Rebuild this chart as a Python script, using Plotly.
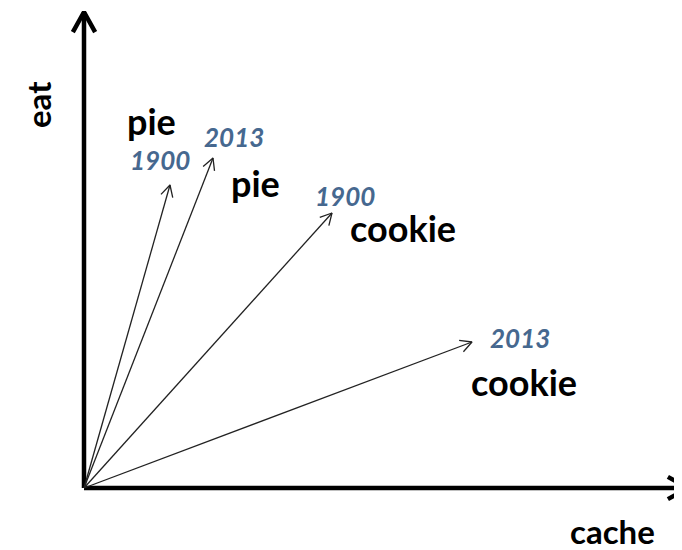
import numpy as np
import plotly.graph_objects as go

# ---- data: word vectors (cache, eat) ----
words = ["pie", "pie", "cookie", "cookie"]
years = ["1900", "2013", "1900", "2013"]
cache_vals = [86, 129, 248, 388]
eat_vals = [303, 330, 275, 146]
x_axis_label = "cache"
y_axis_label = "eat"

# ---- styling / label offsets (relative to vector tip, in axis units) ----
year_offsets = [(-10, 25), (21, 21), (13, 17), (48, 4)]
word_offsets = [(-19, 64), (42, -25), (71, -15), (52, -40)]
# page has an 8px body margin, so shift the visible window accordingly
X_MIN, X_MAX = -76, 606
Y_MIN, Y_MAX = -70, 480
FONT = "Lato"
BLUE = "#46688f"


def chevron(tip, direction, length, half_angle_deg):
    d = np.asarray(direction, float)
    d = d / np.linalg.norm(d)
    n = np.array([-d[1], d[0]])
    a = np.radians(half_angle_deg)
    tip = np.asarray(tip, float)
    back = tip - length * np.cos(a) * d
    p1 = back + length * np.sin(a) * n
    p2 = back - length * np.sin(a) * n
    return [p1[0], tip[0], p2[0]], [p1[1], tip[1], p2[1]]


fig = go.Figure()

# axes
ax_w = 4.5
fig.add_trace(go.Scatter(x=[0, 0], y=[0, 476], mode="lines",
                         line=dict(color="black", width=ax_w), hoverinfo="skip"))
fig.add_trace(go.Scatter(x=[0, 604], y=[0, 0], mode="lines",
                         line=dict(color="black", width=ax_w), hoverinfo="skip"))
hx, hy = chevron((0, 476), (0, 1), 23, 29)
fig.add_trace(go.Scatter(x=hx, y=hy, mode="lines",
                         line=dict(color="black", width=ax_w), hoverinfo="skip"))
hx, hy = chevron((604, 0), (1, 0), 23, 29)
fig.add_trace(go.Scatter(x=hx, y=hy, mode="lines",
                         line=dict(color="black", width=ax_w), hoverinfo="skip"))

# vectors
for i in range(len(words)):
    cx, ey = cache_vals[i], eat_vals[i]
    fig.add_trace(go.Scatter(x=[0, cx], y=[0, ey], mode="lines",
                             line=dict(color="#222", width=1.3), hoverinfo="skip"))
    hx, hy = chevron((cx, ey), (cx, ey), 13, 28)
    fig.add_trace(go.Scatter(x=hx, y=hy, mode="lines",
                             line=dict(color="#222", width=1.3), hoverinfo="skip"))
    yo = year_offsets[i]
    wo = word_offsets[i]
    fig.add_annotation(x=cx + yo[0], y=ey + yo[1], text="<b><i>" + years[i] + "</i></b>",
                       showarrow=False, xanchor="center", yanchor="middle",
                       font=dict(family=FONT, size=26, color=BLUE))
    fig.add_annotation(x=cx + wo[0], y=ey + wo[1], text="<b>" + words[i] + "</b>",
                       showarrow=False, xanchor="center", yanchor="middle",
                       font=dict(family=FONT, size=36, color="black"))

fig.add_annotation(x=528, y=-43, text="<b>" + x_axis_label + "</b>", showarrow=False,
                   xanchor="center", yanchor="middle",
                   font=dict(family=FONT, size=33, color="black"))
fig.add_annotation(x=-46, y=383, text="<b>" + y_axis_label + "</b>", showarrow=False,
                   textangle=-90, xanchor="center", yanchor="middle",
                   font=dict(family=FONT, size=33, color="black"))

fig.update_layout(
    width=682, height=550,
    margin=dict(l=0, r=0, t=0, b=0),
    paper_bgcolor="white", plot_bgcolor="white",
    showlegend=False,
    xaxis=dict(range=[X_MIN, X_MAX], visible=False, fixedrange=True),
    yaxis=dict(range=[Y_MIN, Y_MAX], visible=False, fixedrange=True),
)

fig.write_html("out.html")
